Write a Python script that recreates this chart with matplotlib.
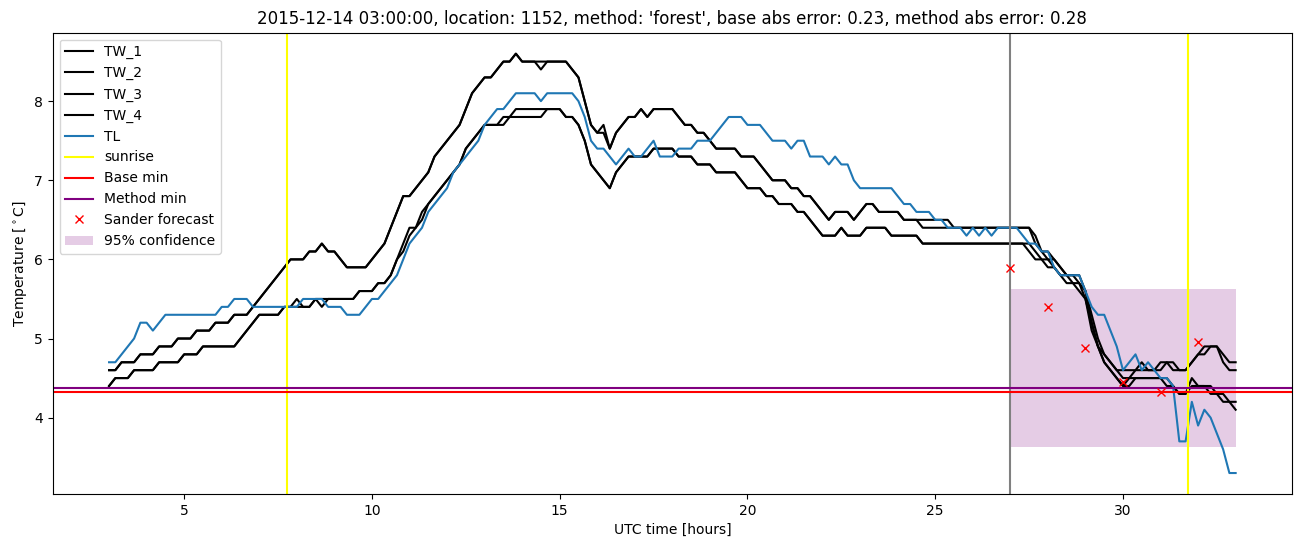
import matplotlib
matplotlib.use("Agg")
import matplotlib.pyplot as plt
import numpy as np

# ---- data (10-minute samples from 03:00 to 33:00 UTC hours) ----
start_hour = 3.0
step_hours = 1 / 6

tw_1 = [
    4.6, 4.6, 4.7, 4.7, 4.7, 4.8,
    4.8, 4.8, 4.9, 4.9, 4.9, 5.0,
    5.0, 5.0, 5.1, 5.1, 5.1, 5.2,
    5.2, 5.2, 5.3, 5.3, 5.3, 5.4,
    5.5, 5.6, 5.7, 5.8, 5.9, 6.0,
    6.0, 6.0, 6.1, 6.1, 6.2, 6.1,
    6.1, 6.0, 5.9, 5.9, 5.9, 5.9,
    6.0, 6.1, 6.2, 6.4, 6.6, 6.8,
    6.8, 6.9, 7.0, 7.1, 7.3, 7.4,
    7.5, 7.6, 7.7, 7.9, 8.1, 8.2,
    8.3, 8.3, 8.4, 8.5, 8.5, 8.6,
    8.5, 8.5, 8.5, 8.4, 8.5, 8.5,
    8.5, 8.5, 8.4, 8.3, 8.0, 7.7,
    7.6, 7.6, 7.4, 7.6, 7.7, 7.8,
    7.8, 7.9, 7.8, 7.9, 7.9, 7.9,
    7.9, 7.8, 7.7, 7.7, 7.6, 7.6,
    7.5, 7.4, 7.4, 7.4, 7.4, 7.3,
    7.3, 7.3, 7.2, 7.1, 7.0, 7.0,
    7.0, 6.9, 6.9, 6.8, 6.8, 6.7,
    6.6, 6.5, 6.6, 6.6, 6.6, 6.5,
    6.6, 6.7, 6.7, 6.6, 6.6, 6.6,
    6.6, 6.5, 6.5, 6.5, 6.4, 6.4,
    6.4, 6.4, 6.4, 6.4, 6.4, 6.4,
    6.4, 6.4, 6.4, 6.4, 6.4, 6.4,
    6.4, 6.4, 6.4, 6.4, 6.3, 6.1,
    6.0, 6.0, 5.9, 5.8, 5.8, 5.8,
    5.6, 5.3, 5.0, 4.8, 4.7, 4.6,
    4.6, 4.6, 4.6, 4.7, 4.6, 4.6,
    4.7, 4.7, 4.6, 4.6, 4.6, 4.7,
    4.8, 4.8, 4.9, 4.9, 4.8, 4.7,
    4.7,
]

tw_2 = [
    4.6, 4.6, 4.7, 4.7, 4.7, 4.8,
    4.8, 4.8, 4.9, 4.9, 4.9, 5.0,
    5.0, 5.0, 5.1, 5.1, 5.1, 5.2,
    5.2, 5.2, 5.3, 5.3, 5.3, 5.4,
    5.5, 5.6, 5.7, 5.8, 5.9, 6.0,
    6.0, 6.0, 6.1, 6.1, 6.2, 6.1,
    6.1, 6.0, 5.9, 5.9, 5.9, 5.9,
    6.0, 6.1, 6.2, 6.4, 6.6, 6.8,
    6.8, 6.9, 7.0, 7.1, 7.3, 7.4,
    7.5, 7.6, 7.7, 7.9, 8.1, 8.2,
    8.3, 8.3, 8.4, 8.5, 8.5, 8.6,
    8.5, 8.5, 8.5, 8.5, 8.5, 8.5,
    8.5, 8.5, 8.4, 8.3, 8.0, 7.7,
    7.6, 7.7, 7.4, 7.6, 7.7, 7.8,
    7.8, 7.9, 7.8, 7.9, 7.9, 7.9,
    7.9, 7.8, 7.7, 7.7, 7.6, 7.6,
    7.5, 7.4, 7.4, 7.4, 7.4, 7.3,
    7.3, 7.3, 7.2, 7.1, 7.0, 7.0,
    7.0, 6.9, 6.9, 6.8, 6.8, 6.7,
    6.6, 6.5, 6.6, 6.6, 6.6, 6.5,
    6.6, 6.7, 6.7, 6.6, 6.6, 6.6,
    6.6, 6.5, 6.5, 6.5, 6.5, 6.5,
    6.5, 6.5, 6.5, 6.4, 6.4, 6.4,
    6.4, 6.4, 6.4, 6.4, 6.4, 6.4,
    6.4, 6.4, 6.4, 6.4, 6.2, 6.1,
    6.1, 6.0, 5.9, 5.8, 5.8, 5.7,
    5.6, 5.2, 4.9, 4.8, 4.7, 4.6,
    4.5, 4.5, 4.6, 4.6, 4.6, 4.6,
    4.6, 4.7, 4.7, 4.6, 4.6, 4.7,
    4.8, 4.9, 4.9, 4.9, 4.7, 4.6,
    4.6,
]

tw_3 = [
    4.4, 4.5, 4.5, 4.5, 4.6, 4.6,
    4.6, 4.6, 4.7, 4.7, 4.7, 4.7,
    4.8, 4.8, 4.8, 4.9, 4.9, 4.9,
    4.9, 4.9, 4.9, 5.0, 5.1, 5.2,
    5.3, 5.3, 5.3, 5.3, 5.4, 5.4,
    5.5, 5.4, 5.4, 5.5, 5.5, 5.5,
    5.5, 5.5, 5.5, 5.5, 5.6, 5.6,
    5.6, 5.7, 5.7, 5.8, 6.0, 6.2,
    6.4, 6.4, 6.6, 6.7, 6.8, 6.9,
    7.0, 7.1, 7.2, 7.4, 7.5, 7.6,
    7.7, 7.7, 7.7, 7.7, 7.8, 7.9,
    7.9, 7.9, 7.9, 7.9, 7.9, 7.9,
    7.9, 7.8, 7.8, 7.7, 7.5, 7.2,
    7.1, 7.0, 6.9, 7.1, 7.2, 7.3,
    7.3, 7.3, 7.3, 7.4, 7.4, 7.4,
    7.4, 7.3, 7.3, 7.3, 7.2, 7.2,
    7.2, 7.1, 7.1, 7.1, 7.1, 7.0,
    6.9, 6.9, 6.9, 6.8, 6.8, 6.7,
    6.7, 6.7, 6.6, 6.6, 6.5, 6.4,
    6.3, 6.3, 6.3, 6.4, 6.3, 6.3,
    6.3, 6.4, 6.4, 6.4, 6.4, 6.3,
    6.3, 6.3, 6.3, 6.3, 6.2, 6.2,
    6.2, 6.2, 6.2, 6.2, 6.2, 6.2,
    6.2, 6.2, 6.2, 6.2, 6.2, 6.2,
    6.2, 6.2, 6.2, 6.2, 6.1, 6.0,
    6.0, 5.9, 5.8, 5.8, 5.7, 5.7,
    5.5, 5.2, 4.9, 4.7, 4.6, 4.5,
    4.4, 4.4, 4.5, 4.5, 4.5, 4.5,
    4.5, 4.5, 4.4, 4.3, 4.3, 4.4,
    4.4, 4.4, 4.4, 4.3, 4.3, 4.2,
    4.2,
]

tw_4 = [
    4.4, 4.5, 4.5, 4.5, 4.6, 4.6,
    4.6, 4.6, 4.7, 4.7, 4.7, 4.7,
    4.8, 4.8, 4.8, 4.9, 4.9, 4.9,
    4.9, 4.9, 4.9, 5.0, 5.1, 5.2,
    5.3, 5.3, 5.3, 5.3, 5.4, 5.4,
    5.4, 5.4, 5.4, 5.5, 5.4, 5.5,
    5.5, 5.5, 5.5, 5.5, 5.6, 5.6,
    5.6, 5.7, 5.7, 5.8, 6.0, 6.1,
    6.3, 6.4, 6.5, 6.7, 6.8, 6.9,
    7.0, 7.1, 7.2, 7.4, 7.5, 7.6,
    7.7, 7.7, 7.7, 7.8, 7.8, 7.8,
    7.8, 7.8, 7.8, 7.8, 7.9, 7.9,
    7.9, 7.8, 7.8, 7.7, 7.5, 7.2,
    7.1, 7.0, 6.9, 7.1, 7.2, 7.3,
    7.3, 7.3, 7.3, 7.4, 7.4, 7.4,
    7.4, 7.3, 7.3, 7.3, 7.2, 7.2,
    7.2, 7.1, 7.1, 7.1, 7.1, 7.0,
    6.9, 6.9, 6.9, 6.8, 6.8, 6.7,
    6.7, 6.7, 6.6, 6.6, 6.5, 6.4,
    6.3, 6.3, 6.3, 6.4, 6.3, 6.3,
    6.3, 6.4, 6.4, 6.4, 6.4, 6.3,
    6.3, 6.3, 6.3, 6.3, 6.2, 6.2,
    6.2, 6.2, 6.2, 6.2, 6.2, 6.2,
    6.2, 6.2, 6.2, 6.2, 6.2, 6.2,
    6.2, 6.2, 6.2, 6.1, 6.0, 6.0,
    5.9, 5.9, 5.8, 5.7, 5.7, 5.6,
    5.5, 5.1, 4.9, 4.7, 4.6, 4.5,
    4.4, 4.5, 4.5, 4.5, 4.5, 4.5,
    4.5, 4.4, 4.4, 4.3, 4.3, 4.5,
    4.4, 4.4, 4.3, 4.3, 4.2, 4.2,
    4.1,
]

tl = [
    4.7, 4.7, 4.8, 4.9, 5.0, 5.2,
    5.2, 5.1, 5.2, 5.3, 5.3, 5.3,
    5.3, 5.3, 5.3, 5.3, 5.3, 5.3,
    5.4, 5.4, 5.5, 5.5, 5.5, 5.4,
    5.4, 5.4, 5.4, 5.4, 5.4, 5.4,
    5.4, 5.5, 5.5, 5.5, 5.5, 5.4,
    5.4, 5.4, 5.3, 5.3, 5.3, 5.4,
    5.5, 5.5, 5.6, 5.7, 5.8, 6.0,
    6.2, 6.3, 6.4, 6.6, 6.7, 6.8,
    6.9, 7.1, 7.2, 7.3, 7.4, 7.5,
    7.7, 7.8, 7.9, 7.9, 8.0, 8.1,
    8.1, 8.1, 8.1, 8.0, 8.1, 8.1,
    8.1, 8.1, 8.1, 8.0, 7.8, 7.5,
    7.4, 7.4, 7.3, 7.2, 7.3, 7.4,
    7.3, 7.3, 7.4, 7.5, 7.3, 7.3,
    7.3, 7.4, 7.4, 7.4, 7.5, 7.5,
    7.5, 7.6, 7.7, 7.8, 7.8, 7.8,
    7.7, 7.7, 7.7, 7.6, 7.5, 7.5,
    7.5, 7.4, 7.5, 7.5, 7.3, 7.3,
    7.3, 7.2, 7.3, 7.2, 7.2, 7.0,
    6.9, 6.9, 6.9, 6.9, 6.9, 6.9,
    6.8, 6.7, 6.7, 6.6, 6.6, 6.6,
    6.5, 6.5, 6.4, 6.4, 6.4, 6.3,
    6.4, 6.3, 6.4, 6.3, 6.4, 6.4,
    6.4, 6.4, 6.3, 6.2, 6.2, 6.1,
    6.1, 5.9, 5.8, 5.8, 5.8, 5.8,
    5.6, 5.4, 5.3, 5.3, 5.1, 4.9,
    4.6, 4.7, 4.8, 4.6, 4.7, 4.6,
    4.5, 4.5, 4.4, 3.7, 3.7, 4.2,
    3.9, 4.1, 4.0, 3.8, 3.6, 3.3,
    3.3,
]

sunrise_hours = [7.73, 31.73]
forecast_start = 27.0
base_min = 4.33
method_min = 4.38
forecast_hours = [27, 28, 29, 30, 31, 32]
forecast_values = [5.89, 5.40, 4.88, 4.45, 4.32, 4.95]
conf_hours = [27.0, 33.0]
conf_low = 3.63
conf_high = 5.62

title = ("2015-12-14 03:00:00, location: 1152, method: 'forest', "
         "base abs error: 0.23, method abs error: 0.28")

hours = start_hour + step_hours * np.arange(len(tl))

fig, ax = plt.subplots(figsize=(13.02, 5.47), dpi=100)
fig.subplots_adjust(left=0.0405, right=0.9923, top=0.9402, bottom=0.0969)

for name, vals in [("TW_1", tw_1), ("TW_2", tw_2), ("TW_3", tw_3), ("TW_4", tw_4)]:
    ax.plot(hours, vals, color="black", label=name)
ax.plot(hours, tl, color="C0", label="TL")

ax.axvline(sunrise_hours[0], color="yellow", label="sunrise")
ax.axvline(sunrise_hours[1], color="yellow")
ax.axvline(forecast_start, color="gray")
ax.axhline(base_min, color="red", label="Base min")
ax.axhline(method_min, color="purple", label="Method min")
ax.plot(forecast_hours, forecast_values, "x", color="red", linestyle="none",
        label="Sander forecast")
ax.fill_between(conf_hours, [conf_low] * 2, [conf_high] * 2, color="purple",
                alpha=0.2, linewidth=0, label="95% confidence")

ax.set_title(title)
ax.set_xlabel("UTC time [hours]")
ax.set_ylabel(r"Temperature [$^\circ$C]")
ax.legend(loc="upper left")

fig.savefig("out.png", dpi=100)
